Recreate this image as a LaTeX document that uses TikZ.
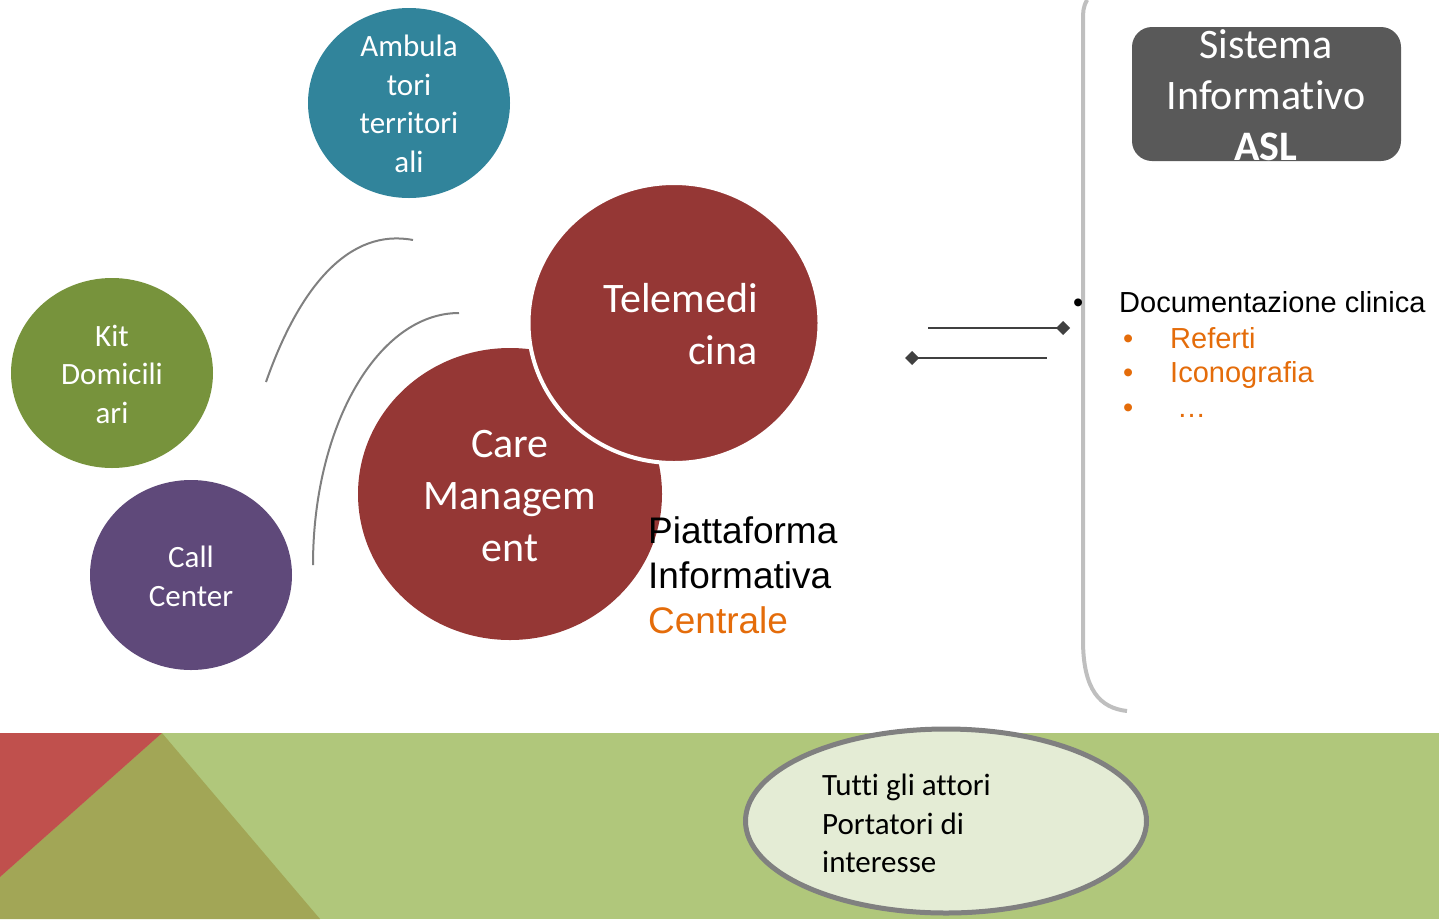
\documentclass[tikz,border=0pt]{standalone}
\usepackage{fontspec}
\setmainfont{Carlito}[Ligatures={NoCommon,NoContextual}]
\newfontfamily\arialf{Liberation Sans}
\usetikzlibrary{shapes.geometric,arrows.meta}
\definecolor{cAmb}{HTML}{31849B}
\definecolor{cKit}{HTML}{77933C}
\definecolor{cCall}{HTML}{5F497A}
\definecolor{cRed}{HTML}{953735}
\definecolor{cBox}{HTML}{595959}
\definecolor{cBracket}{HTML}{BFBFBF}
\definecolor{cArc}{HTML}{808080}
\definecolor{cConn}{HTML}{404040}
\definecolor{cOrange}{HTML}{E46C0A}
\definecolor{cBandG}{HTML}{B0C77B}
\definecolor{cOlive}{HTML}{A2A656}
\definecolor{cRedT}{HTML}{C0504D}
\definecolor{cEll}{HTML}{E4ECD5}
\tikzset{
  blob/.style={ellipse, inner sep=0pt},
  whitetxt/.style={font=\fontsize{31}{38.5}\selectfont, text=white, align=center, inner sep=0pt},
  bigtxt/.style={font=\fontsize{42}{52}\selectfont, text=white, inner sep=0pt},
  ariallist/.style={font=\arialf\fontsize{29}{35}\selectfont, inner sep=0pt, anchor=base west},
  conn/.style={draw=cConn, line width=2.4pt},
  arcline/.style={draw=cArc, line width=2pt},
}
\begin{document}
\begin{tikzpicture}[x=1pt,y=-1pt]
\useasboundingbox (0,0) rectangle (1439,919);
% bottom band
\fill[cBandG] (0,733) rectangle (1439,919);
\fill[cOlive] (162,733) -- (320,919) -- (0,919) -- (0,877) -- cycle;
\fill[cRedT] (0,733) -- (162,733) -- (0,877) -- cycle;
% stakeholders ellipse
\node[blob, draw=cArc, line width=5pt, fill=cEll, minimum width=401pt, minimum height=184pt] (actors) at (946,821) {};
\node[font=\fontsize{31}{38.5}\selectfont, align=left, inner sep=0pt, anchor=west] (actorsT) at (822,823.5) {Tutti gli attori\\Portatori di\\interesse};
% left circles
\node[blob, fill=cAmb, minimum width=202pt, minimum height=190pt] (amb) at (409,103) {};
\node[whitetxt] (ambT) at (409,104) {Ambula\\tori\\territori\\ali};
\node[blob, fill=cKit, minimum width=202pt, minimum height=190pt] (kit) at (112,373) {};
\node[whitetxt] (kitT) at (112,374) {Kit\\Domicili\\ari};
\node[blob, fill=cCall, minimum width=202pt, minimum height=190pt] (call) at (191,575) {};
\node[whitetxt] (callT) at (191,576.5) {Call\\Center};
% arcs
\draw[arcline] (266,382) .. controls (300,285) and (350,228) .. (413,240);
\draw[arcline] (313,565) .. controls (313,426) and (378,313) .. (459,313);
% central circles
\node[blob, fill=cRed, minimum width=304pt, minimum height=292pt] (care) at (510,494) {};
\node[bigtxt, align=center] (careT) at (510,496.5) {Care\\Managem\\ent};
\node[blob, fill=cRed, draw=white, line width=4pt, minimum width=291pt, minimum height=280pt] (tele) at (674,323) {};
\node[bigtxt, align=right, anchor=east] (teleT) at (758,324.5) {Telemedi\\cina};
% platform label
\node[font=\arialf\fontsize{37}{45}\selectfont, align=left, inner sep=0pt, anchor=west] (plat) at (648,575) {Piattaforma\\Informativa\\\textcolor{cOrange}{Centrale}};
% connectors
\coordinate (c1a) at (928,328);
\coordinate (c1b) at (1070,328);
\coordinate (c2a) at (905,358);
\coordinate (c2b) at (1047,358);
\draw[conn, -{Diamond[length=14pt,width=14pt]}] (c1a) -- (c1b);
\draw[conn, {Diamond[length=14pt,width=14pt]}-] (c2a) -- (c2b);
% bracket
\draw[cBracket, line width=4pt] (1087,0) .. controls (1083,8) .. (1083,30) -- (1083,640) .. controls (1083,690) and (1100,708) .. (1127,711);
% Sistema informativo box
\node[fill=cBox, rounded corners=20pt, minimum width=269pt, minimum height=134pt, inner sep=0pt] (sis) at (1266.5,94) {};
\node[font=\fontsize{42}{51}\selectfont, text=white, align=center, inner sep=0pt] (sisT) at (1266,95) {Sistema\\Informativo\\\textbf{ASL}};
% document list
\node[ariallist] (b0) at (1073,312) {•};
\node[ariallist] (doc) at (1119,312) {Documentazione clinica};
\node[ariallist, text=cOrange] (b1) at (1123,348) {•};
\node[ariallist, text=cOrange] (ref) at (1170,348) {Referti};
\node[ariallist, text=cOrange] (b2) at (1123,382) {•};
\node[ariallist, text=cOrange] (ico) at (1170,382) {Iconografia};
\node[ariallist, text=cOrange] (b3) at (1123,417) {•};
\node[ariallist, text=cOrange] (dots) at (1177,417) {…};
\end{tikzpicture}
\end{document}
